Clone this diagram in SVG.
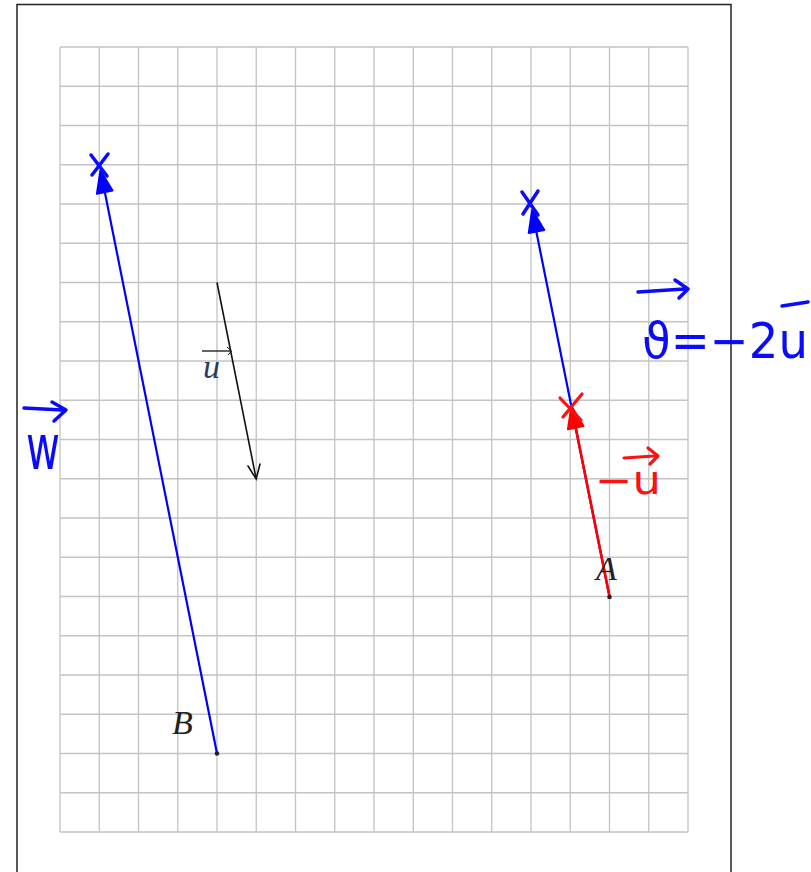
<svg xmlns="http://www.w3.org/2000/svg" width="811" height="872" viewBox="0 0 811 872">
<style>
.grid{stroke:#c4c4c4;stroke-width:1.3;fill:none}
.blue{stroke:#0000ff;stroke-width:2.2;fill:none;stroke-linecap:round}
.red{stroke:#ff0000;stroke-width:2.6;fill:none;stroke-linecap:round}
.hb{stroke:#0a0aff;stroke-width:3.5;fill:none;stroke-linecap:round;stroke-linejoin:round}
.hr{stroke:#ff1010;stroke-width:3.2;fill:none;stroke-linecap:round;stroke-linejoin:round}
.lbl{font-family:"Liberation Serif",serif;font-style:italic;font-size:34px;fill:#222}
.hand{font-family:"DejaVu Sans",sans-serif;font-weight:normal}
</style>
<rect x="0" y="0" width="811" height="872" fill="#fff"/>
<path d="M17,880 V4.5 H731 V880" fill="none" stroke="#222" stroke-width="1.5"/>
<g id="grid" class="grid">
<path d="M60,47V832M99.25,47V832M138.5,47V832M177.75,47V832M217,47V832M256.25,47V832M295.5,47V832M334.75,47V832M374,47V832M413.25,47V832M452.5,47V832M491.75,47V832M531,47V832M570.25,47V832M609.5,47V832M648.75,47V832M688,47V832"/>
<path d="M60,47H688M60,86.25H688M60,125.5H688M60,164.75H688M60,204H688M60,243.25H688M60,282.5H688M60,321.75H688M60,361H688M60,400.25H688M60,439.5H688M60,478.75H688M60,518H688M60,557.25H688M60,596.5H688M60,635.75H688M60,675H688M60,714.25H688M60,753.5H688M60,792.75H688M60,832H688"/>
</g>
<g id="connectors">
<g id="vec-u">
<line x1="217" y1="282.5" x2="256" y2="478" stroke="#111" stroke-width="1.6"/>
<path d="M248,466 L256.2,479 L260,464" fill="none" stroke="#111" stroke-width="1.6" stroke-linecap="round"/>
</g>
<g id="vec-w">
<line class="blue" x1="217" y1="753.5" x2="103" y2="183"/>
<polygon points="100.4,170.6 112.5,190.6 96.9,193.8" fill="#0000ff" stroke="#0000ff" stroke-width="2" stroke-linejoin="round"/>
<path class="hb" d="M91,155 L107,176 M108,154 L92,175" stroke-width="3"/>
</g>
<g id="vec-v">
<line class="blue" x1="609.5" y1="596.5" x2="534" y2="220"/>
<polygon points="532.2,209.9 544.3,229.9 528.7,233.1" fill="#0000ff" stroke="#0000ff" stroke-width="2" stroke-linejoin="round"/>
<path class="hb" d="M522,192 L538,215 M538,191 L523,214" stroke-width="3"/>
</g>
<g id="vec-minus-u">
<line class="red" x1="609.5" y1="596.5" x2="573" y2="414"/>
<polygon points="571.4,406.1 583.5,426.1 567.9,429.3" fill="#ff0000" stroke="#ff0000" stroke-width="2" stroke-linejoin="round"/>
<path class="hr" d="M560,398 L581,420 M582,394 L563,417" stroke-width="3"/>
</g>
</g>
<g id="point-A">
<circle cx="609.5" cy="597" r="2.3" fill="#222"/>
<text class="lbl" x="596" y="580">A</text>
</g>
<g id="point-B">
<circle cx="217" cy="753.5" r="2.3" fill="#222"/>
<text class="lbl" x="172" y="734">B</text>
</g>
<g id="label-u">
<line x1="202" y1="351" x2="231" y2="351" stroke="#111" stroke-width="1.3"/>
<path d="M227,347 L231.5,351 L228,355" fill="none" stroke="#111" stroke-width="1"/>
<text class="lbl" x="203" y="378" style="fill:#2a3a6a">u</text>
</g>
<g id="label-w">
<path class="hb" d="M24,408 L62,410 M52,402 L66,410 L54,421"/>
<text class="hand" x="26" y="469" font-size="62" fill="#0a0aff" textLength="34" lengthAdjust="spacingAndGlyphs">w</text>
</g>
<g id="label-v">
<path class="hb" d="M638,292 L684,289 M675,280 L688,289 L679,298"/>
<path class="hb" d="M782,306 L808,302"/>
<text class="hand" x="642" y="358" font-size="50" fill="#0a0aff" textLength="166" lengthAdjust="spacingAndGlyphs">ϑ=−2u</text>
</g>
<g id="label-minus-u">
<path class="hr" d="M624,458 L654,456 M648,448 L658,456 L650,464"/>
<text class="hand" x="595" y="494" font-size="40" fill="#ff1010" textLength="66" lengthAdjust="spacingAndGlyphs">−u</text>
</g>
</svg>
